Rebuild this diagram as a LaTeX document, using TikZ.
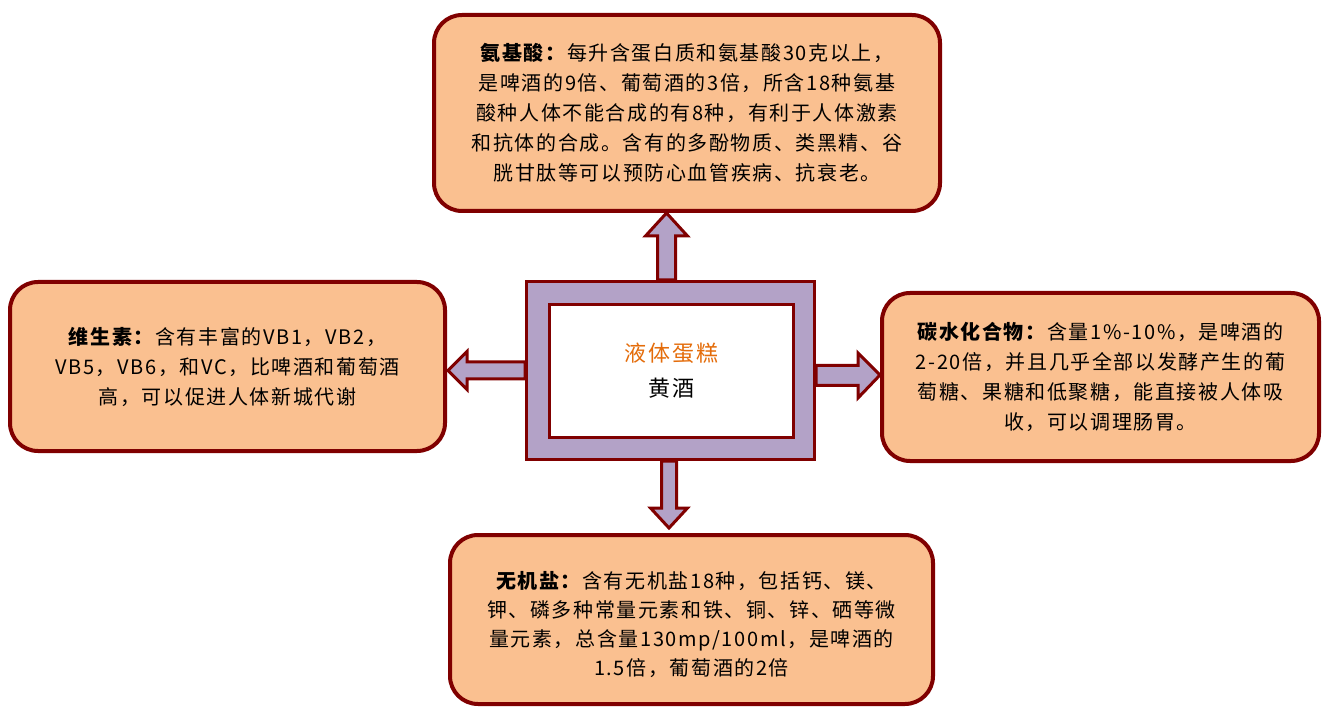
\documentclass[tikz,border=0pt]{standalone}
\usepackage{fontspec}
\newfontfamily\cjk[LetterSpace=8]{Noto Sans CJK SC}
\usetikzlibrary{calc,backgrounds}
\definecolor{dred}{HTML}{800000}
\definecolor{peach}{HTML}{FAC090}
\definecolor{purp}{HTML}{B3A2C7}
\definecolor{orng}{HTML}{E46C0A}
\begin{document}
\begin{tikzpicture}[x=1pt,y=-1pt,
  infobox/.style={draw=dred, fill=peach, line width=4pt, rounded corners=28pt,
    align=center, inner sep=0pt, font=\cjk\fontsize{20}{30}\selectfont},
  infotext/.style={align=center, inner sep=0pt, font=\cjk\fontsize{20}{29}\selectfont},
  outerbox/.style={draw=dred, fill=purp, line width=3pt, inner sep=0pt},
  innerbox/.style={draw=dred, fill=white, line width=3pt, inner sep=0pt,
    align=center, font=\cjk\fontsize{22}{35}\selectfont},
  darr/.style={draw=dred, fill=purp, line width=3pt, line join=miter}]
\useasboundingbox (0,0) rectangle (1328,708);
\begin{pgfonlayer}{background}
\fill[white] (0,0) rectangle (1328,708);
\end{pgfonlayer}

\node[infobox, minimum width=506pt, minimum height=196pt] (amino) at (687,113) {%
\textbf{氨基酸：}每升含蛋白质和氨基酸30克以上，\\
是啤酒的9倍、葡萄酒的3倍，所含18种氨基\\
酸种人体不能合成的有8种，有利于人体激素\\
和抗体的合成。含有的多酚物质、类黑精、谷\\
胱甘肽等可以预防心血管疾病、抗衰老。};

\node[infobox, minimum width=435pt, minimum height=169pt] (vit) at (227.5,366.5) {%
\textbf{维生素：}含有丰富的VB1，VB2，\\
VB5，VB6，和VC，比啤酒和葡萄酒\\
高，可以促进人体新城代谢};

\node[infobox, minimum width=437pt, minimum height=168pt] (carb) at (1100.5,377) {%
\textbf{碳水化合物：}含量1\%-10\%，是啤酒的\\
2-20倍，并且几乎全部以发酵产生的葡\\
萄糖、果糖和低聚糖，能直接被人体吸\\
收，可以调理肠胃。};

\node[infobox, minimum width=483pt, minimum height=169pt] (salt) at (691.5,619.5) {};
\node[infotext] (salttext) at (691.5,625) {%
\textbf{无机盐：}含有无机盐18种，包括钙、镁、\\
钾、磷多种常量元素和铁、铜、锌、硒等微\\
量元素，总含量130mp/100ml，是啤酒的\\
1.5倍，葡萄酒的2倍};

\node[outerbox, minimum width=288pt, minimum height=178pt] (c) at (670.5,370.5) {};
\node[innerbox, minimum width=244pt, minimum height=133pt] (ci) at (671.5,371) {%
{\color{orng}液体蛋糕}\\黄酒};

\begin{pgfonlayer}{background}
% up
\draw[darr] let \p1=(c.north), \p2=(amino.south) in
  (\x1-13pt,\y1) -- (\x1-13pt,\y2-23pt) -- (\x1-25pt,\y2-23pt) -- (\x1-4pt,\y2)
  -- (\x1+17pt,\y2-23pt) -- (\x1+5pt,\y2-23pt) -- (\x1+5pt,\y1) -- cycle;
% down
\draw[darr] let \p1=(c.south), \p2=(salt.north) in
  (\x1-9pt,\y1) -- (\x1-9pt,\y2+25pt) -- (\x1-20pt,\y2+25pt) -- (\x1-1.5pt,\y2+5pt)
  -- (\x1+17pt,\y2+25pt) -- (\x1+6pt,\y2+25pt) -- (\x1+6pt,\y1) -- cycle;
% left
\draw[darr] let \p1=(c.west), \p2=(vit.east) in
  (\x1,\y1+8.5pt) -- (\x2+20pt,\y1+8.5pt) -- (\x2+20pt,\y1+19pt) -- (\x2+1pt,\y1)
  -- (\x2+20pt,\y1-19pt) -- (\x2+20pt,\y1-8.5pt) -- (\x1,\y1-8.5pt) -- cycle;
% right
\draw[darr] let \p1=(c.east), \p2=(carb.west) in
  (\x1,\y1+5pt) -- (\x2-22pt,\y1+5pt) -- (\x2-22pt,\y1+17.5pt) -- (\x2,\y1-4.5pt)
  -- (\x2-22pt,\y1-27.5pt) -- (\x2-22pt,\y1-15pt) -- (\x1,\y1-15pt) -- cycle;
\end{pgfonlayer}
\end{tikzpicture}
\end{document}
